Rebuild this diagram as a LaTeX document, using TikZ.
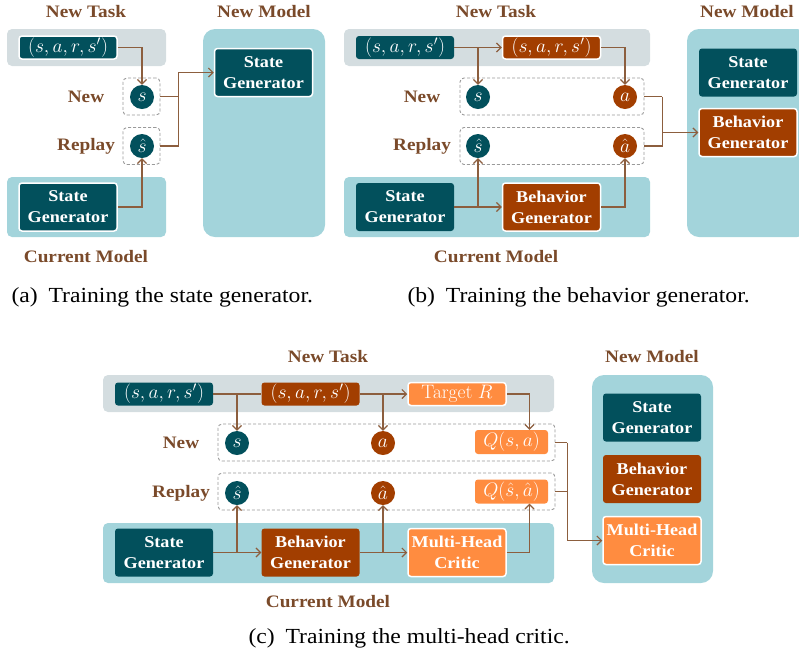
\RequirePackage{fix-cm}
\documentclass[tikz,border=0pt]{standalone}
\usepackage[no-math]{fontspec}
\setmainfont{Liberation Serif}[FakeStretch=1.1]
\usetikzlibrary{arrows.meta}

\definecolor{tealc}{HTML}{02505C}
\definecolor{rustc}{HTML}{A23E00}
\definecolor{orangec}{HTML}{FF8C40}
\definecolor{bgteal}{HTML}{A3D4DB}
\definecolor{bggray}{HTML}{D4DDE0}
\definecolor{labelbrown}{HTML}{7A4A2A}
\definecolor{arrowbrown}{HTML}{8C5E3E}
\definecolor{slotgray}{HTML}{9A9A9A}

\begin{document}
\begin{tikzpicture}[x=1pt,y=-1pt,
    gen/.style={rounded corners=3pt,text=white,align=center,inner sep=0pt,
      minimum width=98pt,minimum height=48pt,font=\fontsize{16.5}{21}\selectfont\bfseries},
    tup/.style={rounded corners=3pt,text=white,inner sep=0pt,
      minimum width=98pt,minimum height=23pt,font=\fontsize{19.5}{21}\selectfont},
    qbox/.style={rounded corners=3pt,text=white,inner sep=0pt,fill=orangec,
      minimum width=73pt,minimum height=24pt,font=\fontsize{19.5}{21}\selectfont},
    hl/.style={draw=white,line width=1.5pt},
    vnode/.style={circle,fill=#1,text=white,inner sep=0pt,minimum size=24pt,
      font=\fontsize{19.5}{21}\selectfont},
    slot/.style={draw=slotgray,dash pattern=on 3pt off 2pt,rounded corners=4pt,
      minimum height=37pt,line width=0.9pt},
    lbl/.style={text=labelbrown,font=\fontsize{17.5}{21}\selectfont\bfseries},
    captext/.style={anchor=west,font=\fontsize{21.5}{25}\selectfont},
    link/.style={draw=arrowbrown,line width=1.2pt},
    flow/.style={link,-{Straight Barb[length=4.5pt,width=9pt]}}]

    \useasboundingbox (0,0) rectangle (799,657);

    % (a)
    \fill[bggray,rounded corners=5pt] (7,29) rectangle (166,66);
    \fill[bgteal,rounded corners=5pt] (7,177) rectangle (166,237);
    \fill[bgteal,rounded corners=12pt] (203,29) rectangle (325,237);

    \node[lbl] (LTA) at (86,12) {New Task};
    \node[lbl] (LMA) at (264,12) {New Model};
    \node[lbl] (LCA) at (86,257) {Current Model};
    \node[lbl] (LNA) at (86,97) {New};
    \node[lbl] (LRA) at (86,146) {Replay};

    \node[tup,fill=tealc,hl] (ATUP) at (68,47.5) {$(s,a,r,s')$};
    \node[slot,minimum width=37pt] (ANEW) at (141.5,96.5) {};
    \node[slot,minimum width=37pt] (AREP) at (141.5,146) {};
    \node[vnode=tealc] (AS) at (142,97) {$s$};
    \node[vnode=tealc] (ASH) at (142,146) {$\hat{s}$};
    \node[gen,fill=tealc,hl] (ASG) at (68,207) {State\\Generator};
    \node[gen,fill=tealc,hl] (NASG) at (263.5,72.5) {State\\Generator};

    \draw[flow] (ATUP.east) -| (AS.north);
    \draw[link] (ANEW.east) -- ++(18,0) coordinate (AJ);
    \draw[flow] (AJ) |- (NASG.west);
    \draw[link] (AREP.east) -| (AJ);
    \draw[flow] (ASG.east) -| (ASH.south);

    % (b)
    \fill[bggray,rounded corners=5pt] (344,29) rectangle (650,66);
    \fill[bgteal,rounded corners=5pt] (344,177) rectangle (650,237);
    \fill[bgteal,rounded corners=12pt] (687,29) rectangle (809,237);

    \node[lbl] (LTB) at (496,12) {New Task};
    \node[lbl] (LMB) at (747,12) {New Model};
    \node[lbl] (LCB) at (496,257) {Current Model};
    \node[lbl] (LNB) at (422,97) {New};
    \node[lbl] (LRB) at (422,146) {Replay};

    \node[tup,fill=tealc] (BTUP) at (405,47.5) {$(s,a,r,s')$};
    \node[tup,fill=rustc,hl] (BTUP2) at (551.5,47.5) {$(s,a,r,s')$};
    \node[slot,minimum width=184pt] (BNEW) at (552,96.5) {};
    \node[slot,minimum width=184pt] (BREP) at (552,146) {};
    \node[vnode=tealc] (BS) at (478,97) {$s$};
    \node[vnode=rustc] (BA) at (625,97) {$a$};
    \node[vnode=tealc] (BSH) at (478,146) {$\hat{s}$};
    \node[vnode=rustc] (BAH) at (625,146) {$\hat{a}$};
    \node[gen,fill=tealc] (BSG) at (405,207) {State\\Generator};
    \node[gen,fill=rustc,hl] (BBG) at (551.5,207) {Behavior\\Generator};
    \node[gen,fill=tealc] (NBSG) at (748,72.5) {State\\Generator};
    \node[gen,fill=rustc,hl] (NBBG) at (748,132.5) {Behavior\\Generator};

    \draw[flow] (BTUP.east) -- (BTUP2.west);
    \draw[flow] (BS.north |- BTUP.east) -- (BS.north);
    \draw[flow] (BTUP2.east) -| (BA.north);
    \draw[link] (BNEW.east) -- ++(18,0) coordinate (BJ);
    \draw[flow] (BJ) |- (NBBG.west);
    \draw[link] (BREP.east) -| (BJ);
    \draw[flow] (BSG.east) -- (BBG.west);
    \draw[flow] (BSH.south |- BSG.east) -- (BSH.south);
    \draw[flow] (BBG.east) -| (BAH.south);

    % (c)
    \fill[bggray,rounded corners=5pt] (103,375) rectangle (554,412);
    \fill[bgteal,rounded corners=5pt] (103,523) rectangle (554,583);
    \fill[bgteal,rounded corners=12pt] (592,375) rectangle (713,583);

    \node[lbl] (LTC) at (328,357) {New Task};
    \node[lbl] (LMC) at (652,357) {New Model};
    \node[lbl] (LCC) at (328,602) {Current Model};
    \node[lbl] (LNC) at (181,443) {New};
    \node[lbl] (LRC) at (181,493) {Replay};

    \node[tup,fill=tealc] (CTUP) at (164,394) {$(s,a,r,s')$};
    \node[tup,fill=rustc] (CTUP2) at (310.5,394) {$(s,a,r,s')$};
    \node[tup,fill=orangec,hl] (CTGT) at (457,394) {$\mathrm{Target}\ R$};
    \node[slot,minimum width=337pt] (CNEW) at (386.5,442.5) {};
    \node[slot,minimum width=337pt] (CREP) at (386.5,491.5) {};
    \node[vnode=tealc] (CS) at (237,443) {$s$};
    \node[vnode=rustc] (CA) at (383,443) {$a$};
    \node[qbox] (CQ) at (511.5,442) {$Q(s,a)$};
    \node[vnode=tealc] (CSH) at (237,493) {$\hat{s}$};
    \node[vnode=rustc] (CAH) at (383,493) {$\hat{a}$};
    \node[qbox] (CQH) at (511.5,491.5) {$Q(\hat{s},\hat{a})$};
    \node[gen,fill=tealc] (CSG) at (164,552.5) {State\\Generator};
    \node[gen,fill=rustc] (CBG) at (310.5,552.5) {Behavior\\Generator};
    \node[gen,fill=orangec,hl] (CMHC) at (457,552.5) {Multi-Head\\Critic};
    \node[gen,fill=tealc] (NCSG) at (652,417.5) {State\\Generator};
    \node[gen,fill=rustc] (NCBG) at (652,479) {Behavior\\Generator};
    \node[gen,fill=orangec,hl] (NCMHC) at (652,540.5) {Multi-Head\\Critic};

    \draw[link] (CTUP.east) -- (CTUP2.west);
    \draw[flow] (CS.north |- CTUP.east) -- (CS.north);
    \draw[flow] (CTUP2.east) -- (CTGT.west);
    \draw[flow] (CA.north |- CTUP2.east) -- (CA.north);
    \draw[flow] (CTGT.east) -| ([xshift=18]CQ.north);
    \draw[link] (CNEW.east) -- ++(12,0) coordinate (CJ);
    \draw[flow] (CJ) |- (NCMHC.west);
    \draw[link] (CREP.east) -| (CJ);
    \draw[flow] (CSG.east) -- (CBG.west);
    \draw[flow] (CSH.south |- CSG.east) -- (CSH.south);
    \draw[flow] (CBG.east) -- (CMHC.west);
    \draw[flow] (CAH.south |- CBG.east) -- (CAH.south);
    \draw[flow] (CMHC.east) -| ([xshift=18]CQH.south);

    % captions
    \node[captext] (CAPA) at (8,297) {(a)\enspace Training the state generator.};
    \node[captext] (CAPB) at (404,297) {(b)\enspace Training the behavior generator.};
    \node[captext] (CAPC) at (245,638) {(c)\enspace Training the multi-head critic.};
\end{tikzpicture}
\end{document}
